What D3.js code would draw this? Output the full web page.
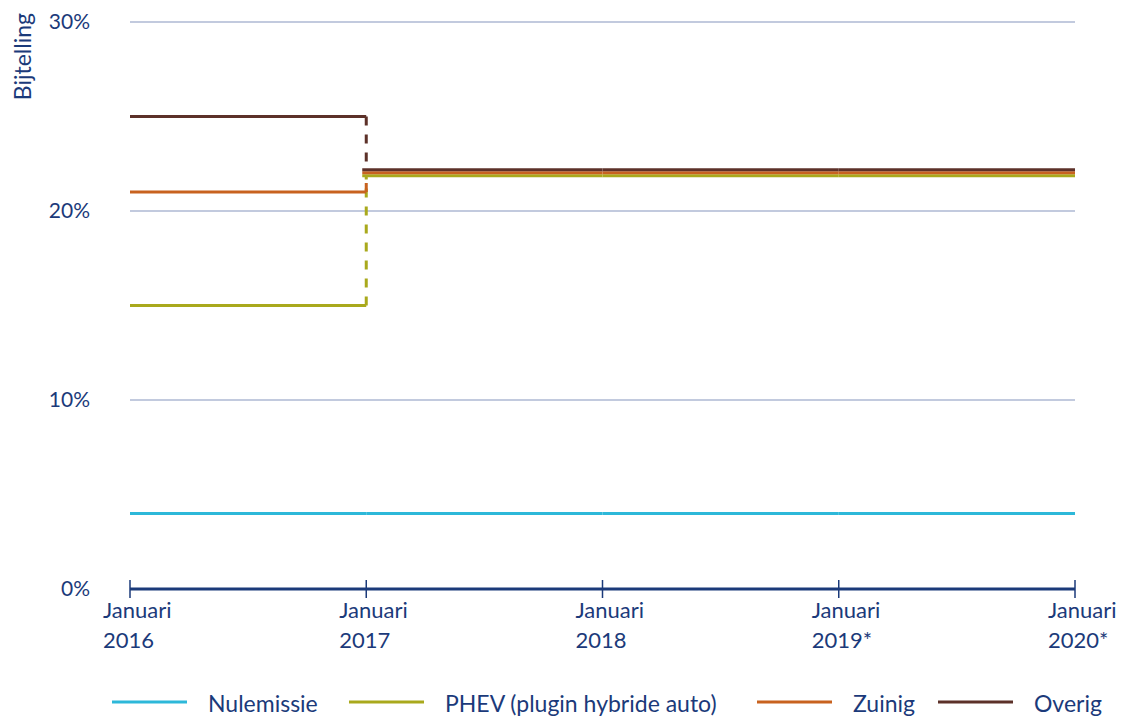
<!DOCTYPE html>
<html>
<head>
<meta charset="utf-8">
<script src="https://cdn.jsdelivr.net/npm/d3@7"></script>
<style>
  body { margin: 0; background: #fff; }
  text { font-family: Lato, "Open Sans", sans-serif; fill: #1b3a7a; }
</style>
</head>
<body>
<div id="chart"></div>
<script>
// data
var years = [2016, 2017, 2018, 2019, 2020];
var yearLabels = ["2016", "2017", "2018", "2019*", "2020*"];
var yTicks = [0, 10, 20, 30];
var seriesNames = ["Nulemissie", "PHEV (plugin hybride auto)", "Zuinig", "Overig"];
var nulemissie = [4, 4, 4, 4, 4];
var phev = [15, 22, 22, 22, 22];
var zuinig = [21, 22, 22, 22, 22];
var overig = [25, 22, 22, 22, 22];

var colors = ["#2db8d9", "#a9a91c", "#c8621f", "#5c3129"];
// pixel shift so coinciding lines stay visible (overig on top)
var stackShift = [0, 2.5, -0.5, -3.5];

var series = [nulemissie, phev, zuinig, overig];

var W = 1121, H = 718;
var margin = {top: 22, right: 46, bottom: 129, left: 130},
    width = W - margin.left - margin.right,
    height = H - margin.top - margin.bottom;

var svg = d3.select("#chart").append("svg")
  .attr("width", W).attr("height", H)
  .append("g")
  .attr("transform", "translate(" + margin.left + "," + margin.top + ")");

var x = d3.scaleLinear().domain([2016, 2020]).range([0, width]);
var y = d3.scaleLinear().domain([0, 30]).range([height, 0]);

// gridlines
svg.selectAll(".grid")
  .data(yTicks.filter(function(d) { return d > 0; }))
  .enter().append("line")
  .attr("x1", 0).attr("x2", width)
  .attr("y1", function(d) { return y(d); })
  .attr("y2", function(d) { return y(d); })
  .attr("stroke", "#8595bd")
  .attr("stroke-width", 1.2);

// y labels
svg.selectAll(".ylab")
  .data(yTicks)
  .enter().append("text")
  .attr("x", -40)
  .attr("y", function(d) { return y(d); })
  .attr("dy", "0.35em")
  .attr("text-anchor", "end")
  .style("font-size", "21px")
  .text(function(d) { return d + "%"; });

svg.append("text")
  .attr("transform", "translate(" + (-99) + "," + (-9) + ")rotate(-90)")
  .attr("text-anchor", "end")
  .style("font-size", "23px")
  .text("Bijtelling");

// lines: horizontal solid steps, vertical dashed jumps
series.forEach(function(vals, s) {
  var g = svg.append("g");
  function shift(i) {
    var shared = series.some(function(o, k) { return k !== s && o[i] === vals[i]; });
    return shared ? stackShift[s] : 0;
  }
  for (var i = 1; i < vals.length; i++) {
    if (vals[i] !== vals[i - 1]) {
      g.append("line")
        .attr("x1", x(years[i])).attr("x2", x(years[i]))
        .attr("y1", y(vals[i - 1]) + shift(i - 1))
        .attr("y2", y(vals[i]) + shift(i))
        .attr("stroke", colors[s])
        .attr("stroke-width", 3)
        .attr("stroke-dasharray", "9,9");
    }
  }
  for (var j = 0; j < vals.length - 1; j++) {
    var x0 = x(years[j]);
    if (j > 0 && vals[j] !== vals[j - 1]) x0 -= 4;
    g.append("line")
      .attr("x1", x0).attr("x2", x(years[j + 1]))
      .attr("y1", y(vals[j]) + shift(j))
      .attr("y2", y(vals[j]) + shift(j))
      .attr("stroke", colors[s])
      .attr("stroke-width", 3);
  }
});

// x axis
svg.append("line")
  .attr("x1", 0).attr("x2", width)
  .attr("y1", height).attr("y2", height)
  .attr("stroke", "#1b3a7a").attr("stroke-width", 3);

svg.selectAll(".xtick")
  .data(years)
  .enter().append("line")
  .attr("x1", function(d) { return x(d); })
  .attr("x2", function(d) { return x(d); })
  .attr("y1", height - 9).attr("y2", height + 9)
  .attr("stroke", "#1b3a7a").attr("stroke-width", 1.5);

var xl = svg.selectAll(".xlab")
  .data(years)
  .enter().append("text")
  .attr("x", function(d) { return x(d) - 27; })
  .attr("y", height + 29)
  .style("font-size", "22px");
xl.append("tspan").text("Januari");
xl.append("tspan")
  .attr("x", function(d) { return x(d) - 27; })
  .attr("dy", 30)
  .text(function(d, i) { return yearLabels[i]; });

// legend
var legendX = [112, 349, 757, 938];
var leg = d3.select("svg").append("g");
seriesNames.forEach(function(n, i) {
  leg.append("line")
    .attr("x1", legendX[i]).attr("x2", legendX[i] + 75)
    .attr("y1", 702).attr("y2", 702)
    .attr("stroke", colors[i]).attr("stroke-width", 3);
  leg.append("text")
    .attr("x", legendX[i] + 96)
    .attr("y", 712)
    .style("font-size", "23px")
    .text(n);
});
</script>
</body>
</html>
